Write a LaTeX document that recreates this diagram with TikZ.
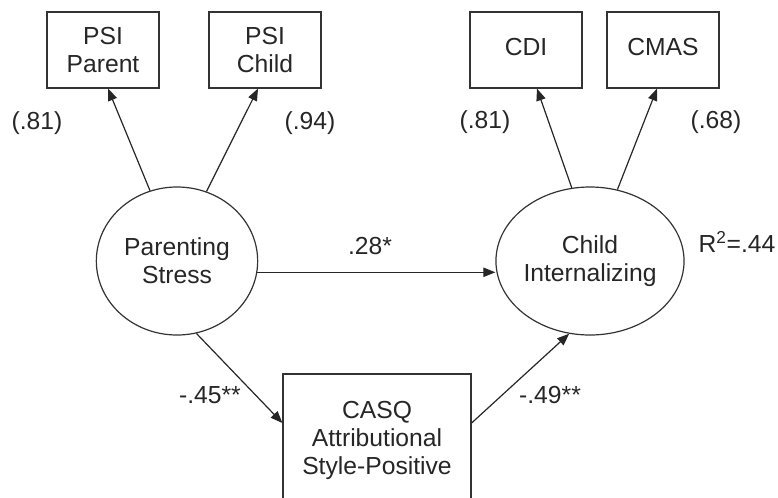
\documentclass[tikz,border=0pt]{standalone}
\usepackage{fontspec}
\setmainfont{Liberation Sans}
\usetikzlibrary{shapes.geometric,arrows.meta}
\newcommand\dfont{\fontsize{18.5}{21}\selectfont}
\begin{document}
\begin{tikzpicture}[x=.75pt,y=-.75pt,line width=.9pt,every node/.style={font=\dfont,text=black!85,align=center},
	obs/.style={draw=black!80,rectangle,minimum width=84pt,minimum height=57pt,inner sep=0pt},
	lat/.style={draw=black!80,ellipse,minimum width=121pt,minimum height=111pt,inner sep=0pt},
	arr/.style={draw=black!85,-{Triangle[length=9pt,width=7pt]}},
	lbl/.style={inner sep=0pt}]
		\clip(0,0)rectangle(778,497);
		\coordinate(PP)at(103,50);
		\coordinate(PC)at(265,50);
		\coordinate(CD)at(526,50);
		\coordinate(CM)at(663,50);
		\coordinate(PS)at(177,261);
		\coordinate(CI)at(590,261);
		\coordinate(CQ)at(377,440);
		\node[obs](pp)at(PP){PSI\\Parent};
		\node[obs](pc)at(PC){PSI\\Child};
		\node[obs](cd)at(CD){\raisebox{5pt}{CDI}};
		\node[obs](cm)at(CM){\raisebox{5pt}{CMAS}};
		\node[lat](ps)at(PS){Parenting\\Stress};
		\node[lat,minimum width=123pt](ci)at(CI){Child\\Internalizing};
		\node[obs,minimum width=141pt,minimum height=99pt](cq)at(CQ){CASQ\\Attributional\\Style-Positive};
		% loadings
		\draw[arr](ps.111.5)--([xshift=3.75pt]pp.south);
		\draw[arr](ps.67.8)--([xshift=-5.25pt]pc.south);
		\draw[arr](ci.104.7)--([xshift=8.25pt]cd.south);
		\draw[arr](ci.69.8)--([xshift=-4.5pt]cm.south);
		% paths
		\draw[arr](ps.-8.6)--(ps.-8.6 -| ci.west);
		\draw[arr](ps.285)--([yshift=12.75pt]cq.west);
		\draw[arr]([yshift=12.75pt]cq.east)--(ci.254);
		\foreach\t/\p in{(.81)/{37,123},(.94)/{310,123},(.81)/{485,122},(.68)/{716,122},.28*/{370,246},-.45**/{210,395},-.49**/{550,395}}{\node[lbl]at(\p){\t};}
		\node[lbl,anchor=east](r2)at(776,242){R\textsuperscript{2}=.44};
		\end{tikzpicture}
\end{document}
